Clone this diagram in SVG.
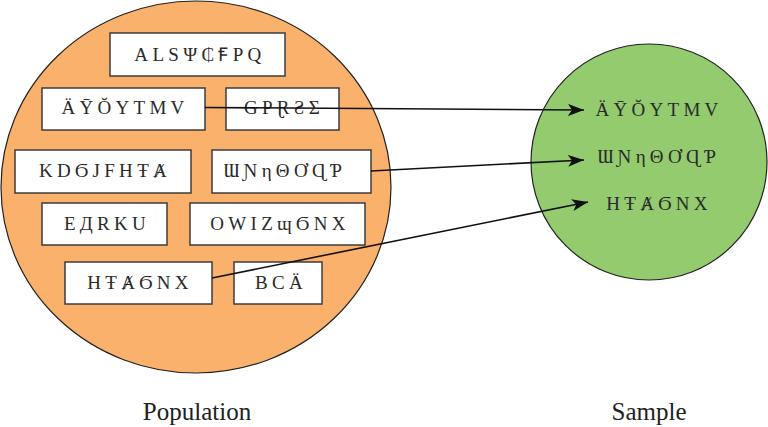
<svg xmlns="http://www.w3.org/2000/svg" width="768" height="427" viewBox="0 0 768 427">
<style>
.box{fill:#fff;stroke:#3c3c3c;stroke-width:1.5}
.conn{stroke:#111;stroke-width:1.6;fill:none}
</style>
<defs>
<marker id="ah" markerWidth="17" markerHeight="13" refX="16" refY="6" orient="auto" markerUnits="userSpaceOnUse">
<path d="M0,0 L16,6 L0,12 L4,6 z" fill="#111"/>
</marker>
</defs>
<g id="population">
<ellipse cx="196" cy="187" rx="195" ry="186" fill="#F9B16B" stroke="#222" stroke-width="1.2"/>
</g>
<g id="sample">
<circle cx="649" cy="162" r="118" fill="#93CB6E" stroke="#222" stroke-width="1.2"/>
</g>
<g id="n1"><rect class="box" x="110" y="33" width="175" height="43"/><text x="200" y="61" font-family="Liberation Serif, DejaVu Serif, serif" font-size="19" letter-spacing="4.3" fill="#2a2a2a" text-anchor="middle">ALSΨ₵ꞘPQ</text></g>
<g id="n2"><rect class="box" x="42" y="88" width="163" height="42"/><text x="125" y="114" font-family="Liberation Serif, DejaVu Serif, serif" font-size="19" letter-spacing="4.3" fill="#2a2a2a" text-anchor="middle">ÄȲŎYTMV</text></g>
<g id="n3"><rect class="box" x="226" y="88" width="113" height="42"/><text x="284" y="114" font-family="Liberation Serif, DejaVu Serif, serif" font-size="19" letter-spacing="4.3" fill="#2a2a2a" text-anchor="middle">GPⱤƧΣ</text></g>
<g id="n4"><rect class="box" x="15" y="150" width="176" height="43"/><text x="105" y="177" font-family="Liberation Serif, DejaVu Serif, serif" font-size="19" letter-spacing="4.3" fill="#2a2a2a" text-anchor="middle">KDϬJFHŦȺ</text></g>
<g id="n5"><rect class="box" x="212" y="150" width="159" height="43"/><text x="285" y="177" font-family="Liberation Serif, DejaVu Serif, serif" font-size="19" letter-spacing="4.3" fill="#2a2a2a" text-anchor="middle">ƜƝηΘƠɊƤ</text></g>
<g id="n6"><rect class="box" x="42" y="203" width="125" height="42"/><text x="107" y="230" font-family="Liberation Serif, DejaVu Serif, serif" font-size="19" letter-spacing="4.3" fill="#2a2a2a" text-anchor="middle">EДRKU</text></g>
<g id="n7"><rect class="box" x="190" y="203" width="175" height="42"/><text x="280" y="230" font-family="Liberation Serif, DejaVu Serif, serif" font-size="19" letter-spacing="4.3" fill="#2a2a2a" text-anchor="middle">OWIZɰϬNX</text></g>
<g id="n8"><rect class="box" x="65" y="262" width="147" height="42"/><text x="140" y="289" font-family="Liberation Serif, DejaVu Serif, serif" font-size="19" letter-spacing="4.3" fill="#2a2a2a" text-anchor="middle">HŦȺϬNX</text></g>
<g id="n9"><rect class="box" x="234" y="262" width="88" height="42"/><text x="281" y="289" font-family="Liberation Serif, DejaVu Serif, serif" font-size="19" letter-spacing="4.3" fill="#2a2a2a" text-anchor="middle">BCÄ</text></g>
<g id="s1"><text x="659" y="116" font-family="Liberation Serif, DejaVu Serif, serif" font-size="19" letter-spacing="4.3" fill="#2a2a2a" text-anchor="middle">ÄȲŎYTMV</text></g>
<g id="s2"><text x="659" y="163" font-family="Liberation Serif, DejaVu Serif, serif" font-size="19" letter-spacing="4.3" fill="#2a2a2a" text-anchor="middle">ƜƝηΘƠɊƤ</text></g>
<g id="s3"><text x="659" y="210" font-family="Liberation Serif, DejaVu Serif, serif" font-size="19" letter-spacing="4.3" fill="#2a2a2a" text-anchor="middle">HŦȺϬNX</text></g>
<g id="connectors">
<line class="conn" x1="205" y1="107.5" x2="584" y2="110" marker-end="url(#ah)"/>
<line class="conn" x1="371" y1="171" x2="584" y2="160" marker-end="url(#ah)"/>
<line class="conn" x1="212" y1="278" x2="588" y2="202" marker-end="url(#ah)"/>
</g>
<text x="197" y="420" font-family="Liberation Serif" font-size="25" fill="#222" text-anchor="middle">Population</text>
<text x="649" y="420" font-family="Liberation Serif" font-size="25" fill="#222" text-anchor="middle">Sample</text>
</svg>
